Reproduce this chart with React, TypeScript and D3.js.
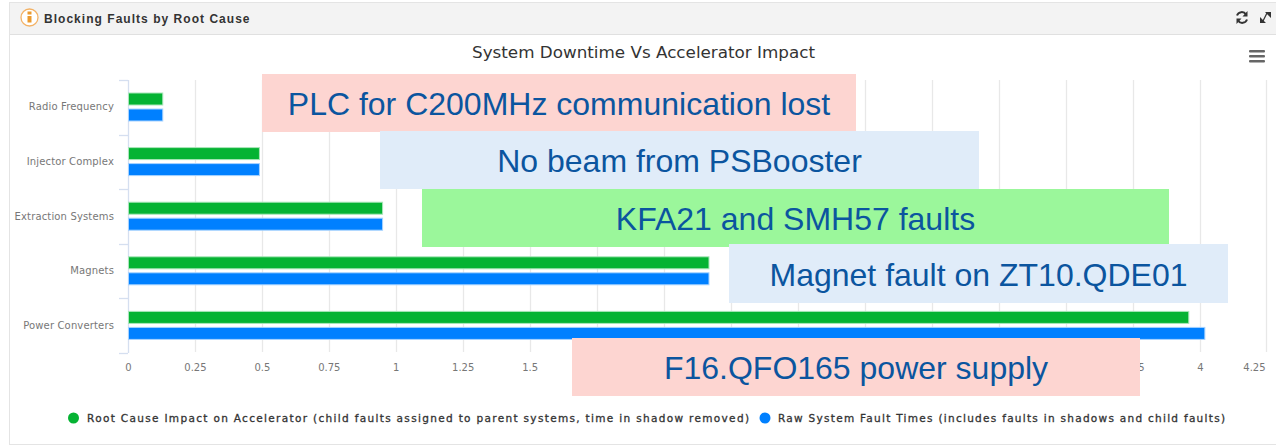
import React from "react";
import * as d3 from "d3";

const categories = ["Radio Frequency", "Injector Complex", "Extraction Systems", "Magnets", "Power Converters"];
const impactValues = [0.128, 0.489, 0.949, 2.168, 3.96];
const rawValues = [0.128, 0.489, 0.949, 2.168, 4.02];
const xTicks = [0, 0.25, 0.5, 0.75, 1, 1.25, 1.5, 1.75, 2, 2.25, 2.5, 2.75, 3, 3.25, 3.5, 3.75, 4, 4.25];
const legendImpact = "Root Cause Impact on Accelerator (child faults assigned to parent systems, time in shadow removed)";
const legendRaw = "Raw System Fault Times (includes faults in shadows and child faults)";
const callouts = [
  { text: "PLC for C200MHz communication lost", x0: 262, x1: 856, y0: 74, y1: 132, fill: "#fdd5d1" },
  { text: "No beam from PSBooster", x0: 380, x1: 979, y0: 131, y1: 189, fill: "#e0ecf9" },
  { text: "KFA21 and SMH57 faults", x0: 422, x1: 1169, y0: 189, y1: 247, fill: "#9bf79b" },
  { text: "Magnet fault on ZT10.QDE01", x0: 729, x1: 1228, y0: 244, y1: 303, fill: "#e0ecf9" },
  { text: "F16.QFO165 power supply", x0: 572, x1: 1140, y0: 338, y1: 396, fill: "#fdd5d1" },
];

const GREEN = "#05b333";
const BLUE = "#0080ff";
const GREEN_EDGE = "#a9e6b9";
const BLUE_EDGE = "#a6d2ff";
const AXIS = "#d5dff0";
const chartFont = "'DejaVu Sans', sans-serif";

export default function App() {
  const x = d3.scaleLinear().domain([0, 4]).range([128.5, 1199.5]);
  const band = d3.scaleBand<string>().domain(categories).range([80, 353]);
  const inner = d3.scaleBand<string>().domain(["impact", "raw"]).range([13, 41]).paddingInner(0.25);
  const top = 80;
  const bottom = 353;
  const edges = categories.map((c) => band(c) as number).concat([bottom]);

  return (
    <svg width={1276} height={446} style={{ position: "absolute", left: 0, top: 0, background: "#fff" }}>
      {/* panel */}
      <rect x={9.5} y={2.5} width={1280} height={442} fill="#fff" stroke="#e4e4e4" />
      <rect x={10} y={3} width={1266} height={31} fill="#f3f3f3" />
      <line x1={10} x2={1276} y1={34.5} y2={34.5} stroke="#e0e0e0" />
      <circle cx={29.5} cy={17.5} r={8.5} fill="#fff" stroke="#f3b266" strokeWidth={1.3} />
      <rect x={27.5} y={16} width={4} height={6.5} fill="#eb9a2f" />
      <rect x={27.5} y={11.5} width={4} height={3} fill="#eb9a2f" />
      <text x={44} y={22.5} fontFamily="'Liberation Sans', Arial, sans-serif" fontWeight={700} fontSize={12} letterSpacing={1.03} fill="#333">Blocking Faults by Root Cause</text>

      {/* refresh + expand */}
      <g stroke="#333" fill="none" strokeWidth={2}>
        <path d="M1237 15.5 A5 5 0 0 1 1246 14.5" />
        <path d="M1247 19.5 A5 5 0 0 1 1238 20.5" />
        <path d="M1263 21 L1267 13" strokeWidth={1.3} />
      </g>
      <path d="M1247.5 11 V16.5 H1242.5 Z M1236.5 24 V18.5 H1241.5 Z M1265 12 H1271 V18 Z M1260 23 V17 L1266 23 Z" fill="#333" />

      {/* hamburger */}
      <g fill="#666">
        <rect x={1249} y={50} width={16} height={2.6} rx={1} />
        <rect x={1249} y={55} width={16} height={2.6} rx={1} />
        <rect x={1249} y={60} width={16} height={2.6} rx={1} />
      </g>

      <text x={643.5} y={58} textAnchor="middle" fontFamily={chartFont} fontSize={16} textLength={343} lengthAdjust="spacingAndGlyphs" fill="#333">System Downtime Vs Accelerator Impact</text>

      {/* grid */}
      {xTicks.slice(1).map((t) => (
        <line key={t} x1={Math.round(x(t)) + 0.5} x2={Math.round(x(t)) + 0.5} y1={top} y2={bottom - 1} stroke="#e8e8e8" strokeWidth={1.3} />
      ))}
      {/* category axis */}
      <line x1={128.5} x2={128.5} y1={top} y2={bottom} stroke={AXIS} strokeWidth={1.3} />
      {edges.map((e) => (
        <line key={e} x1={119} x2={128} y1={Math.round(e) + 0.5} y2={Math.round(e) + 0.5} stroke={AXIS} strokeWidth={1.3} />
      ))}

      {/* bars */}
      {categories.map((c, i) => (
        <g key={c}>
          <rect x={x(0)} y={(band(c) as number) + (inner("impact") as number)} width={x(impactValues[i]) - x(0)} height={inner.bandwidth()} fill={GREEN} stroke={GREEN_EDGE} strokeWidth={1} />
          <rect x={x(0)} y={(band(c) as number) + (inner("raw") as number)} width={x(rawValues[i]) - x(0)} height={inner.bandwidth()} fill={BLUE} stroke={BLUE_EDGE} strokeWidth={1} />
          <text x={114} y={(band(c) as number) + band.bandwidth() / 2 + 3} textAnchor="end" fontFamily={chartFont} fontSize={10} letterSpacing={0.15} fill="#777">{c}</text>
        </g>
      ))}

      {/* x labels */}
      {xTicks.map((t, i) => (
        <text key={t} x={i === xTicks.length - 1 ? x(t) - 12 : x(t) + (t > 1.6 ? 1 : 0)} y={371} textAnchor="middle" fontFamily={chartFont} fontSize={10} fill="#777">{String(t)}</text>
      ))}

      {/* legend */}
      <circle cx={73.5} cy={418} r={5.5} fill={GREEN} />
      <text x={87} y={422} fontFamily={chartFont} fontSize={10.5} stroke="#333" strokeWidth={0.3} textLength={662} lengthAdjust="spacing" fill="#333">{legendImpact}</text>
      <circle cx={765} cy={418} r={5.5} fill={BLUE} />
      <text x={778} y={422} fontFamily={chartFont} fontSize={10.5} stroke="#333" strokeWidth={0.3} textLength={447} lengthAdjust="spacing" fill="#333">{legendRaw}</text>

      {/* callouts */}
      {callouts.map((b) => (
        <g key={b.text}>
          <rect x={b.x0} y={b.y0} width={b.x1 - b.x0} height={b.y1 - b.y0} fill={b.fill} />
          <text x={(b.x0 + b.x1) / 2} y={(b.y0 + b.y1) / 2 + 12} textAnchor="middle" fontFamily="'Liberation Sans', Arial, sans-serif" fontSize={32} fill="#0b559f">{b.text}</text>
        </g>
      ))}
    </svg>
  );
}
